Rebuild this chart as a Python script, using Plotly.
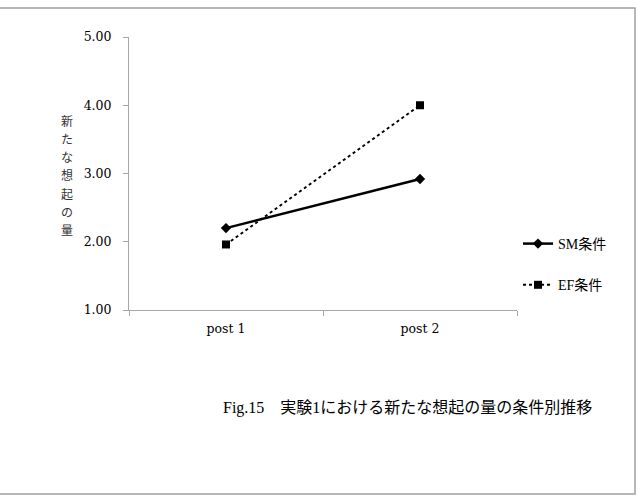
import plotly.graph_objects as go

categories = ["post 1", "post 2"]
sm_values = [2.20, 2.92]
ef_values = [1.96, 4.00]
y_ticks = [1.0, 2.0, 3.0, 4.0, 5.0]
y_tick_labels = ["1.00", "2.00", "3.00", "4.00", "5.00"]
y_title = "新たな想起の量"
caption = "Fig.15　実験1における新たな想起の量の条件別推移"

SERIF = "DejaVu Serif, Noto Sans CJK JP, serif"
SERIF2 = "Liberation Serif, Noto Sans CJK JP, serif"

W, H = 639, 503
L, R, T, B = 129, 122, 37, 193
pw, ph = W - L - R, H - T - B

def px(x):
    return (x - L) / pw

def py(y):
    return (H - B - y) / ph

fig = go.Figure()
fig.add_trace(go.Scatter(
    x=categories, y=sm_values, name="SM条件", mode="lines+markers",
    line=dict(color="black", width=2.5),
    marker=dict(symbol="diamond", size=8, color="black"),
    legendgroup="a",
))
fig.add_trace(go.Scatter(
    x=categories, y=ef_values, name="EF条件", mode="lines+markers",
    line=dict(color="black", width=2, dash="dot"),
    marker=dict(symbol="square", size=8, color="black"),
    legendgroup="b",
))

annotations = []
for i, ch in enumerate(y_title):
    annotations.append(dict(
        text=ch, xref="paper", yref="paper", x=px(67), y=py(120 + i * 18.3),
        xanchor="center", yanchor="middle", showarrow=False,
        font=dict(family="Noto Sans CJK JP", size=12, color="#333333"),
    ))
annotations.append(dict(
    text=caption,
    xref="paper", yref="paper", x=px(221), y=py(408),
    xanchor="left", yanchor="middle", showarrow=False,
    font=dict(family=SERIF2, size=16, color="black"),
))

fig.update_layout(
    width=W, height=H,
    margin=dict(l=L, r=R, t=T, b=B),
    paper_bgcolor="white", plot_bgcolor="white",
    font=dict(family=SERIF, size=13, color="black"),
    showlegend=True,
    legend=dict(
        x=px(518), y=py(228), xanchor="left", yanchor="top",
        font=dict(family=SERIF2, size=14, color="black"),
        tracegroupgap=20, bgcolor="rgba(0,0,0,0)",
    ),
    xaxis=dict(
        type="category", range=[-0.5, 1.5],
        showline=True, linecolor="#a6a6a6", linewidth=1,
        ticks="outside", tickson="boundaries", ticklen=5, tickcolor="#a6a6a6",
        showgrid=False, zeroline=False,
        tickfont=dict(family=SERIF, size=12.5), ticklabelstandoff=7,
    ),
    yaxis=dict(
        range=[1, 5], tickvals=y_ticks, ticktext=y_tick_labels,
        showline=True, linecolor="#a6a6a6", linewidth=1,
        ticks="outside", ticklen=5, tickcolor="#a6a6a6",
        showgrid=False, zeroline=False,
        tickfont=dict(family=SERIF, size=12.5), ticklabelstandoff=9,
    ),
    shapes=[dict(
        type="rect", xref="paper", yref="paper",
        x0=px(-3), x1=px(635), y0=py(494), y1=py(8),
        line=dict(color="#a0a0a0", width=1.5), fillcolor="rgba(0,0,0,0)",
        layer="below",
    )],
    annotations=annotations,
)

fig.write_html("out.html")
